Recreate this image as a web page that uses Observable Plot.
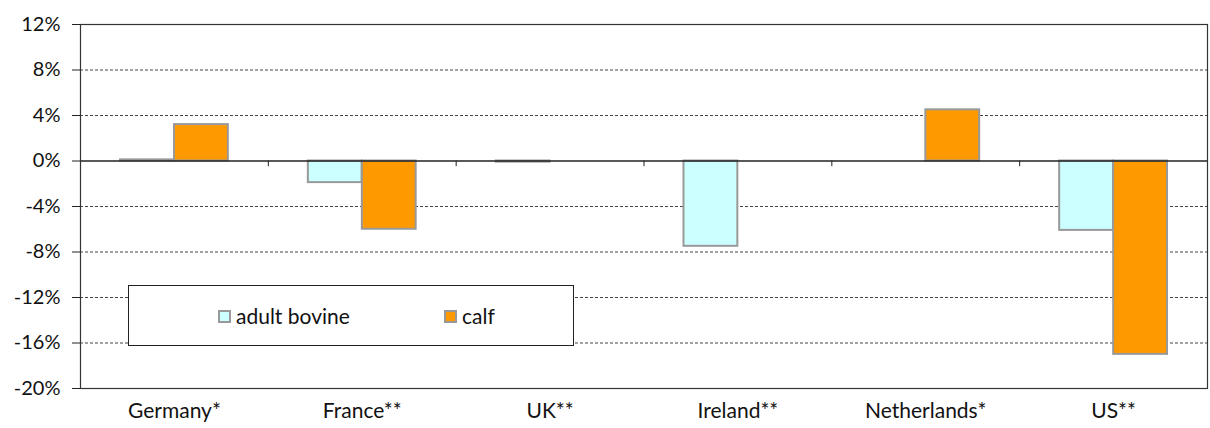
<!DOCTYPE html>
<html>
<head>
<meta charset="utf-8">
<script src="https://cdn.jsdelivr.net/npm/d3@7"></script>
<script src="https://cdn.jsdelivr.net/npm/@observablehq/plot@0.6"></script>
<style>
  html, body { margin: 0; padding: 0; background: #fff; }
  #wrap { position: relative; width: 1210px; height: 428px; font-family: Lato, "Open Sans", sans-serif; color: #111; }
  #legend { position: absolute; left: 128px; top: 285px; width: 446px; height: 61px; border: 1px solid #222; background: #fff; box-sizing: border-box; font-size: 21px; }
  .item { position: absolute; top: 17px; display: flex; align-items: center; }
  .sw { width: 9px; height: 9px; border: 2px solid #999; margin-right: 5px; margin-top: 2px; }
</style>
</head>
<body>
<div id="wrap"></div>
<script>
const countries = ["Germany*", "France**", "UK**", "Ireland**", "Netherlands*", "US**"];
const adultBovine = [0.1, -1.9, -0.1, -7.5, null, -6.1];
const calf = [3.2, -6.0, null, null, 4.5, -17.0];
const yTicks = [-20, -16, -12, -8, -4, 0, 4, 8, 12];
const seriesNames = ["adult bovine", "calf"];
const seriesColors = ["#CCFFFF", "#FF9900"];

const table = countries.map((c, i) => ({i, country: c, adult: adultBovine[i], calf: calf[i]}));
const gridTicks = yTicks.filter(t => t !== -20 && t !== 0 && t !== 12);

const chart = Plot.plot({
  width: 1210,
  height: 428,
  marginLeft: 80,
  marginRight: 3,
  marginTop: 24,
  marginBottom: 40,
  x: {domain: [0, countries.length], axis: null},
  y: {domain: [-20, 12], axis: null},
  style: {fontFamily: "Lato, 'Open Sans', sans-serif", fontSize: "20px", color: "#111", background: "#fff"},
  marks: [
    Plot.ruleY(gridTicks, {stroke: "#444", strokeDasharray: "3,2", strokeWidth: 1}),
    Plot.rectY(table.filter(d => d.adult != null), {
      x1: d => d.i, x2: d => d.i + 1, y1: 0, y2: "adult",
      insetLeft: 40, insetRight: 94,
      fill: seriesColors[0], stroke: "#999", strokeWidth: 2
    }),
    Plot.rectY(table.filter(d => d.calf != null), {
      x1: d => d.i, x2: d => d.i + 1, y1: 0, y2: "calf",
      insetLeft: 94, insetRight: 40,
      fill: seriesColors[1], stroke: "#999", strokeWidth: 2
    }),
    Plot.ruleY([0], {stroke: "#222", strokeWidth: 1.4}),
    Plot.ruleX(d3.range(1, countries.length), {y1: 0, y2: -0.5, stroke: "#222"}),
    Plot.frame({stroke: "#333", strokeWidth: 1.2}),
    Plot.axisY(yTicks, {
      anchor: "left", tickSize: 8, tickPadding: 12,
      tickFormat: d => d + "%", fontSize: 20, stroke: "#222"
    }),
    Plot.axisX(countries.map((c, i) => i + 0.5), {
      anchor: "bottom", tickSize: 0, tickPadding: 15,
      tickFormat: v => countries[Math.floor(v)], fontSize: 21
    })
  ]
});

const wrap = document.getElementById("wrap");
wrap.appendChild(chart);

const legend = document.createElement("div");
legend.id = "legend";
const positions = [89, 315];
seriesNames.forEach((name, k) => {
  const it = document.createElement("div");
  it.className = "item";
  it.style.left = positions[k] + "px";
  const sw = document.createElement("div");
  sw.className = "sw";
  sw.style.background = seriesColors[k];
  const tx = document.createElement("span");
  tx.textContent = name;
  it.appendChild(sw);
  it.appendChild(tx);
  legend.appendChild(it);
});
wrap.appendChild(legend);
</script>
</body>
</html>
